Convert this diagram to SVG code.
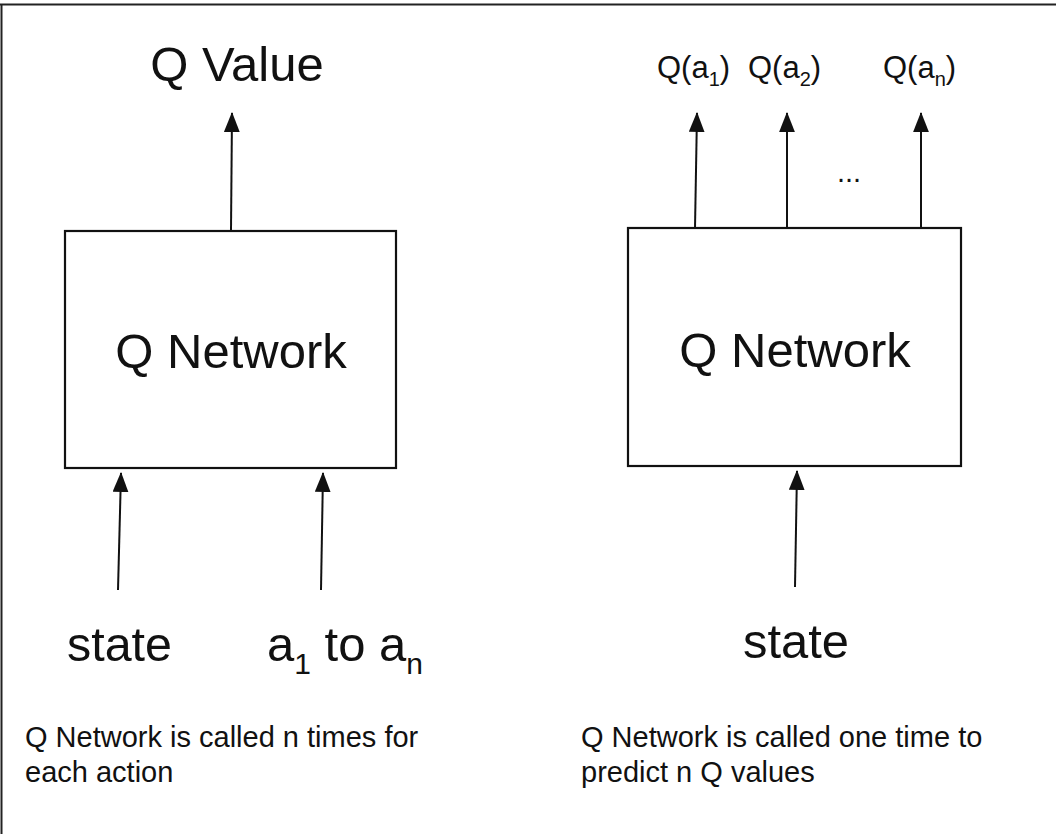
<svg xmlns="http://www.w3.org/2000/svg" width="1056" height="834" viewBox="0 0 1056 834">
<style>
text{font-family:"Liberation Sans",Arial,sans-serif;fill:#111}
.box{fill:#fff;stroke:#111;stroke-width:2.2}
.conn{stroke:#111;stroke-width:2;fill:none}
.big{font-size:49px}
.mid{font-size:46px}
.sm{font-size:31px}
.cap{font-size:29px}
</style>
<defs>
<marker id="ah" markerUnits="userSpaceOnUse" markerWidth="20" markerHeight="16" viewBox="0 0 19 15" refX="18" refY="7.5" orient="auto">
<path d="M0,0 L19,7.5 L0,15 z" fill="#111"/>
</marker>
</defs>
<rect width="1056" height="834" fill="#fff"/>
<path d="M0,4.5 H1056 M1.5,4 V834" stroke="#222" stroke-width="2" fill="none"/>
<g id="node-left">
<rect class="box" x="65" y="231" width="331" height="237"/>
<text class="big" x="231" y="368" text-anchor="middle">Q Network</text>
</g>
<g id="node-right">
<rect class="box" x="628" y="228" width="333" height="238"/>
<text class="big" x="795" y="367" text-anchor="middle">Q Network</text>
</g>
<g id="connectors">
<line class="conn" x1="231" y1="230" x2="232" y2="113" marker-end="url(#ah)"/>
<line class="conn" x1="118" y1="590" x2="121" y2="473" marker-end="url(#ah)"/>
<line class="conn" x1="321" y1="590" x2="323" y2="473" marker-end="url(#ah)"/>
<line class="conn" x1="695" y1="228" x2="697" y2="113" marker-end="url(#ah)"/>
<line class="conn" x1="787" y1="228" x2="787" y2="113" marker-end="url(#ah)"/>
<line class="conn" x1="921" y1="228" x2="921" y2="113" marker-end="url(#ah)"/>
<line class="conn" x1="795" y1="587" x2="797" y2="471" marker-end="url(#ah)"/>
</g>
<g id="label-qvalue">
<text class="big" x="237" y="81" text-anchor="middle">Q Value</text>
</g>
<g id="label-qa">
<text class="sm" x="657" y="78">Q(a<tspan font-size="20" dy="8">1</tspan><tspan dy="-8">)</tspan></text>
<text class="sm" x="748" y="78">Q(a<tspan font-size="20" dy="8">2</tspan><tspan dy="-8">)</tspan></text>
<text class="sm" x="883" y="78">Q(a<tspan font-size="20" dy="8">n</tspan><tspan dy="-8">)</tspan></text>
<text class="cap" x="837" y="182">...</text>
</g>
<g id="label-inputs-left">
<text class="big" x="67" y="661" textLength="105" lengthAdjust="spacingAndGlyphs">state</text>
<text class="big" x="267" y="661">a<tspan font-size="30" dy="13">1</tspan><tspan dy="-13"> to a</tspan><tspan font-size="30" dy="13">n</tspan></text>
</g>
<g id="label-input-right">
<text class="big" x="743" y="658" textLength="106" lengthAdjust="spacingAndGlyphs">state</text>
</g>
<g id="captions">
<text class="cap" x="25" y="747">Q Network is called n times for</text>
<text class="cap" x="25" y="782">each action</text>
<text class="cap" x="581" y="747">Q Network is called one time to</text>
<text class="cap" x="581" y="782">predict n Q values</text>
</g>
</svg>
